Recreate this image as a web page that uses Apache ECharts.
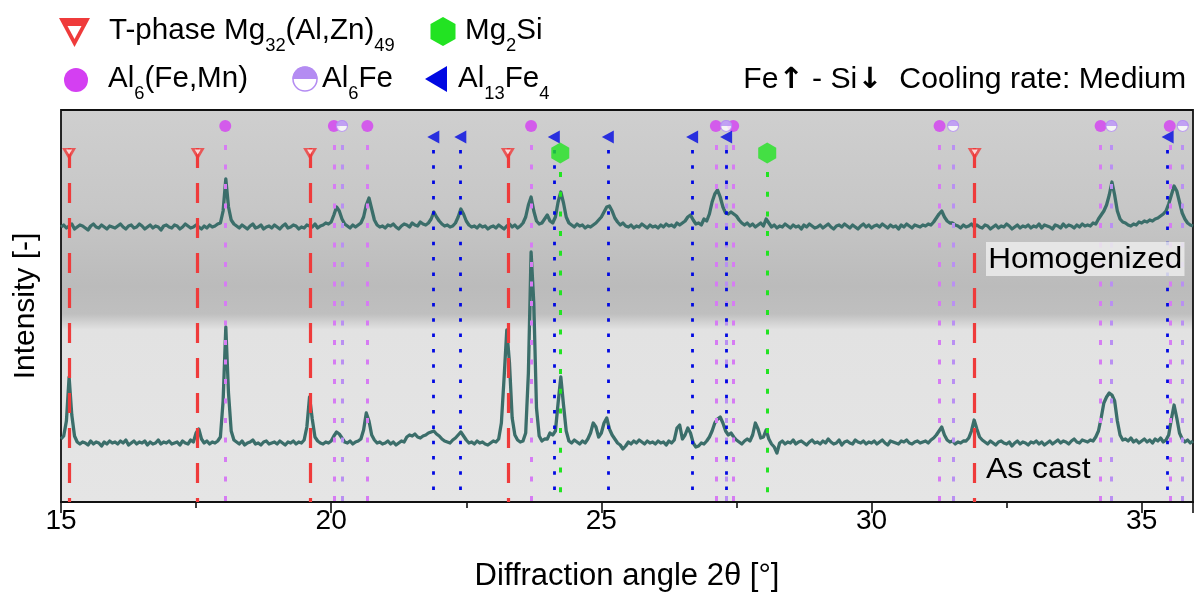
<!DOCTYPE html>
<html>
<head>
<meta charset="utf-8">
<script src="https://cdn.jsdelivr.net/npm/echarts@6/dist/echarts.min.js"></script>
<style>
  html, body { margin: 0; padding: 0; background: #ffffff; }
  #chart { width: 1195px; height: 594px; }
</style>
</head>
<body>
<div id="chart"></div>
<script>
// 2θ sampling grid of both scans (°)
const angleStart = 15.0;
const angleStep = 0.05;

// Intensity (a.u.) of the homogenized scan, one value per grid step from 15.00° to 35.95°
const homogenized = [
  20,22,19,21,23,18,20,22,21,19,17,21,23,20,19,22,20,18,21,20,
  19,21,23,20,18,21,22,19,20,23,21,18,20,22,19,21,20,17,21,22,
  20,19,22,21,18,20,23,21,19,20,22,20,18,21,19,22,20,21,23,24,
  36,68,40,27,23,21,19,22,20,18,21,23,19,20,22,18,20,21,19,22,
  20,18,21,23,19,20,22,21,18,20,19,22,21,20,23,19,21,22,24,23,
  25,32,40,36,28,23,21,19,22,20,22,24,30,42,49,38,27,22,20,21,
  19,22,21,23,20,18,21,23,22,20,24,22,21,25,23,22,24,28,35,30,
  26,23,21,22,20,21,24,30,38,33,26,22,20,21,19,22,20,21,18,20,
  21,19,22,20,18,21,23,20,22,19,21,24,30,42,50,36,26,23,24,28,
  32,26,24,30,45,55,44,30,24,22,20,23,21,22,19,21,20,22,24,27,
  30,35,40,41,36,29,25,22,24,21,20,22,19,21,20,23,21,19,22,20,
  21,19,22,20,23,21,22,20,24,22,24,26,30,32,27,23,24,22,28,26,
  33,45,53,57,50,40,34,33,35,33,31,27,24,22,24,21,23,20,22,24,
  21,28,24,20,22,19,21,20,23,21,19,22,20,21,18,22,20,23,21,19,
  20,22,19,21,23,20,18,21,22,20,23,21,19,22,20,18,21,23,20,22,
  19,21,22,20,23,21,19,22,20,21,18,22,20,23,21,19,22,21,20,22,
  21,23,22,25,29,33,36,30,26,24,24,22,21,19,22,20,21,23,20,22,
  20,19,22,21,18,20,22,19,21,20,23,21,18,20,22,19,21,20,22,19,
  21,20,23,19,22,21,20,18,22,21,19,23,20,22,21,19,22,20,23,21,
  22,21,24,23,28,32,36,42,52,65,52,36,28,25,24,22,21,23,22,25,
  24,26,25,27,26,28,29,31,33,36,43,52,61,56,45,34,28,24,22,21
];

// Intensity (a.u.) of the as-cast scan on the same grid
const asCast = [
  24,27,42,86,48,27,21,19,21,20,18,22,19,21,20,17,21,19,22,20,
  21,19,22,20,23,18,20,22,19,21,20,22,18,21,19,20,23,19,21,20,
  22,19,20,21,18,22,20,19,23,21,30,34,24,20,22,19,21,20,22,26,
  62,136,70,32,23,21,19,22,18,20,21,23,19,20,18,21,22,19,20,21,
  19,22,20,18,21,20,22,19,21,20,23,36,66,44,26,22,20,19,21,20,
  22,27,31,29,25,21,20,22,19,21,22,24,33,50,42,28,23,20,21,19,
  20,22,19,21,18,20,22,21,26,28,27,29,26,25,27,28,30,31,32,29,
  27,24,22,21,20,23,25,28,31,27,23,20,21,19,22,20,21,19,18,20,
  22,21,24,40,85,133,100,45,28,23,21,22,30,90,211,160,55,27,22,24,
  24,30,28,32,60,86,58,32,22,20,23,21,19,22,20,24,30,40,36,26,
  30,40,45,34,28,24,20,18,14,17,21,19,22,20,23,21,19,22,20,21,
  19,22,20,21,18,22,20,23,35,38,24,28,35,30,20,16,17,20,19,22,
  26,32,40,44,46,40,32,28,30,26,23,21,19,22,24,22,28,40,34,25,
  26,33,24,19,16,10,20,22,19,21,20,23,19,21,22,20,18,21,23,20,
  21,19,22,20,24,21,19,20,23,18,21,22,20,19,23,21,20,22,19,21,
  20,22,19,21,23,20,18,22,21,20,19,22,21,23,20,19,21,22,20,21,
  22,20,23,25,28,32,36,28,23,21,22,19,21,20,22,22,25,32,43,34,
  26,23,21,19,22,20,18,21,22,20,19,21,17,20,22,19,21,20,18,21,
  20,22,19,21,18,20,22,19,21,23,20,22,21,19,22,24,21,20,23,22,
  21,23,22,26,32,45,60,66,70,68,62,42,28,23,24,22,25,21,23,20,
  22,24,21,23,20,24,22,25,21,23,28,44,58,45,30,24,21,23,20,22
];

// Reference reflection positions (2θ, °) of each phase
const tPhasePeaks  = [15.15, 17.53, 19.61, 23.27, 31.91];
const mg2siPeaks   = [24.24, 28.07];
const al6FeMnPeaks = [18.04, 20.05, 20.67, 23.70, 27.12, 27.44, 31.26, 34.24, 35.52];
const al6FePeaks   = [20.20, 27.31, 31.51, 34.44, 35.76];
const al13Fe4Peaks = [21.89, 22.39, 24.12, 25.12, 26.68, 27.31, 35.48];

// x axis range and major tick step (°)
const xMin = 15, xMax = 35.95, xStep = 5;

// ---- layout (vertical axis runs in plot pixels, 0 at the bottom) ----
const yMaxUnits = 392;
const offsetHomogenized = 255;
const offsetAsCast = 39;
const FONT = '"Liberation Sans", Arial, Helvetica, sans-serif';

const toSeriesData = (values, offset) =>
  values.map((v, i) => [+(angleStart + i * angleStep).toFixed(2), v + offset]);

function refLines(peaks, top, color, width, dash) {
  return {
    silent: true,
    symbol: ['none', 'none'],
    label: { show: false },
    emphasis: { disabled: true },
    animation: false,
    lineStyle: { color: color, width: width, type: dash, cap: 'butt', opacity: 1 },
    data: peaks.map(x => [{ coord: [x, top] }, { coord: [x, 0] }])
  };
}

function markerSeries(name, peaks, level, symbol, size, style, extra) {
  return Object.assign({
    name: name,
    type: 'scatter',
    data: peaks.map(x => [x, level]),
    symbol: symbol,
    symbolSize: size,
    itemStyle: style,
    silent: true,
    z: 5,
    animation: false
  }, extra || {});
}

const COLORS = {
  trace: '#3b6e6a',
  red: '#ef3b3b',
  mn: '#d43ff2',
  mnLine: '#d67cf3',
  fe: '#b48cf2',
  feLine: '#b990f2',
  blue: '#0008e2',
  green: '#22e322'
};

const TRI_DOWN = 'path://M0,0 L12,0 L6,11 Z';
const TRI_LEFT = 'path://M0,6 L11,0 L11,12 Z';
const HALF_TOP = 'path://M0,5 A5,5 0 0 1 10,5 Z';
const HEXAGON = 'path://M8.66,0 L17.32,5 L17.32,15 L8.66,20 L0,15 L0,5 Z';

const series = [
  {
    name: 'Homogenized', type: 'line', data: toSeriesData(homogenized, offsetHomogenized),
    showSymbol: false, symbol: 'none', silent: true, z: 2, animation: false,
    lineStyle: { color: COLORS.trace, width: 3.3, join: 'round' }
  },
  {
    name: 'As cast', type: 'line', data: toSeriesData(asCast, offsetAsCast),
    showSymbol: false, symbol: 'none', silent: true, z: 2, animation: false,
    lineStyle: { color: COLORS.trace, width: 3.3, join: 'round' }
  },
  markerSeries('Al6(Fe,Mn)', al6FeMnPeaks, 376, 'circle', 12, { color: COLORS.mn },
    { markLine: refLines(al6FeMnPeaks, 357, COLORS.mnLine, 3, [5, 14.5]) }),
  markerSeries('Al6Fe', al6FePeaks, 376, 'circle', 11, { color: '#ffffff', borderColor: COLORS.fe, borderWidth: 1.2 },
    { markLine: refLines(al6FePeaks, 357, COLORS.feLine, 3, [5, 14.5]) }),
  markerSeries('Al6Fe top', al6FePeaks, 376, HALF_TOP, [12, 6], { color: COLORS.fe },
    { symbolOffset: [0, -3] }),
  markerSeries('Al13Fe4', al13Fe4Peaks, 365, TRI_LEFT, [12, 13], { color: COLORS.blue },
    { markLine: refLines(al13Fe4Peaks, 352, COLORS.blue, 2.8, [3.5, 11.8]) }),
  markerSeries('T-phase', tPhasePeaks, 348, TRI_DOWN, [14, 12], { color: COLORS.red },
    { markLine: refLines(tPhasePeaks, 354, COLORS.red, 3.2, [20, 15]) }),
  markerSeries('T-phase inner', tPhasePeaks, 348, TRI_DOWN, [6, 5], { color: '#ffffff' },
    { symbolOffset: [0, -2], z: 6 }),
  markerSeries('Mg2Si', mg2siPeaks, 349, HEXAGON, [18, 21], { color: COLORS.green },
    { markLine: refLines(mg2siPeaks, 330, COLORS.green, 3, [5, 14.7]) })
];

// Legend block and annotations (rich text carries the subscripts)
const rich = {
  n: { fontSize: 29, fontFamily: FONT, color: '#000' },
  s: { fontSize: 18, fontFamily: FONT, color: '#000', padding: [30, 0, 0, 0] }
};
const noteRich = {
  t: { fontSize: 29, fontFamily: FONT, color: '#000' },
  a: { fontSize: 29, fontFamily: '"DejaVu Sans", sans-serif', fontWeight: 'bold', color: '#000' }
};

const graphic = [
  // row 1
  { type: 'polygon', z: 50, shape: { points: [[59, 18], [90, 18], [74.5, 47]] }, style: { fill: COLORS.red } },
  { type: 'polygon', z: 51, shape: { points: [[67.5, 26], [81.5, 26], [74.5, 39]] }, style: { fill: '#ffffff' } },
  { type: 'text', x: 109, y: 31, z: 50, scaleX: 1.02, style: { text: '{n|T-phase Mg}{s|32}{n|(Al,Zn)}{s|49}', rich: rich, verticalAlign: 'middle' } },
  { type: 'polygon', z: 50, shape: { points: [[443, 17], [455.5, 24], [455.5, 39], [443, 46], [430.5, 39], [430.5, 24]] }, style: { fill: COLORS.green } },
  { type: 'text', x: 465, y: 31, z: 50, scaleX: 1.02, style: { text: '{n|Mg}{s|2}{n|Si}', rich: rich, verticalAlign: 'middle' } },
  // row 2
  { type: 'circle', z: 50, shape: { cx: 76, cy: 80, r: 12 }, style: { fill: COLORS.mn } },
  { type: 'text', x: 108, y: 79, z: 50, scaleX: 1.02, style: { text: '{n|Al}{s|6}{n|(Fe,Mn)}', rich: rich, verticalAlign: 'middle' } },
  { type: 'circle', z: 50, shape: { cx: 305, cy: 79, r: 12 }, style: { fill: '#ffffff', stroke: COLORS.fe, lineWidth: 1.5 } },
  { type: 'sector', z: 51, shape: { cx: 305, cy: 79, r: 12.5, r0: 0, startAngle: Math.PI, endAngle: 2 * Math.PI }, style: { fill: COLORS.fe } },
  { type: 'text', x: 322, y: 79, z: 50, scaleX: 1.02, style: { text: '{n|Al}{s|6}{n|Fe}', rich: rich, verticalAlign: 'middle' } },
  { type: 'polygon', z: 50, shape: { points: [[425, 79], [447, 66], [447, 92]] }, style: { fill: COLORS.blue } },
  { type: 'text', x: 458, y: 79, z: 50, scaleX: 1.02, style: { text: '{n|Al}{s|13}{n|Fe}{s|4}', rich: rich, verticalAlign: 'middle' } },
  // condition note
  { type: 'text', x: 1186, y: 80, z: 50, scaleX: 1.04,
    style: { text: '{t|Fe}{a|\u2191}{t| - Si}{a|\u2193}{t|  Cooling rate: Medium}', rich: noteRich, align: 'right', verticalAlign: 'middle' } },
  // scan labels
  { type: 'text', x: 986, y: 242, z: 100, scaleX: 1.085, style: { text: 'Homogenized', font: '29px ' + FONT, fill: '#000',
      backgroundColor: 'rgba(234,234,234,0.88)', padding: [3, 2, 2, 2], verticalAlign: 'top' } },
  { type: 'text', x: 986, y: 455, z: 100, scaleX: 1.1, style: { text: 'As cast', font: '29px ' + FONT, fill: '#000', verticalAlign: 'top' } }
];

const chart = echarts.init(document.getElementById('chart'), null, { renderer: 'canvas' });
chart.setOption({
  animation: false,
  backgroundColor: '#ffffff',
  textStyle: { fontFamily: FONT },
  grid: {
    left: 61, right: 2, top: 110, bottom: 92,
    outerBoundsMode: 'none',
    show: true,
    borderColor: '#111111',
    borderWidth: 1.8,
    backgroundColor: {
      type: 'linear', x: 0, y: 0, x2: 0, y2: 1,
      colorStops: [
        { offset: 0.00, color: '#cfcfcf' },
        { offset: 0.25, color: '#c7c7c7' },
        { offset: 0.45, color: '#bbbbbb' },
        { offset: 0.52, color: '#bfbfbf' },
        { offset: 0.56, color: '#e2e2e2' },
        { offset: 1.00, color: '#e5e5e5' }
      ]
    }
  },
  xAxis: {
    type: 'value', min: xMin, max: xMax, interval: xStep,
    name: 'Diffraction angle 2\u03b8 [\u00b0]', nameLocation: 'middle', nameGap: 59,
    nameTextStyle: { fontSize: 31, color: '#000', fontFamily: FONT },
    axisLine: { show: true, onZero: false, lineStyle: { color: '#111', width: 2 } },
    axisTick: { show: true, inside: false, length: 11, lineStyle: { color: '#111', width: 1.6 } },
    minorTick: { show: true, splitNumber: 2, length: 6, lineStyle: { color: '#111', width: 1.6 } },
    axisLabel: { fontSize: 28, color: '#000', margin: 5, fontFamily: FONT, showMaxLabel: false, showMinLabel: true },
    splitLine: { show: false }, minorSplitLine: { show: false }
  },
  yAxis: {
    type: 'value', min: 0, max: yMaxUnits,
    name: 'Intensity [-]', nameLocation: 'middle', nameGap: 20,
    nameTextStyle: { fontSize: 30, color: '#000', fontFamily: FONT },
    axisLine: { show: false }, axisTick: { show: false }, axisLabel: { show: false },
    splitLine: { show: false }
  },
  series: series,
  graphic: graphic
});
</script>
</body>
</html>
